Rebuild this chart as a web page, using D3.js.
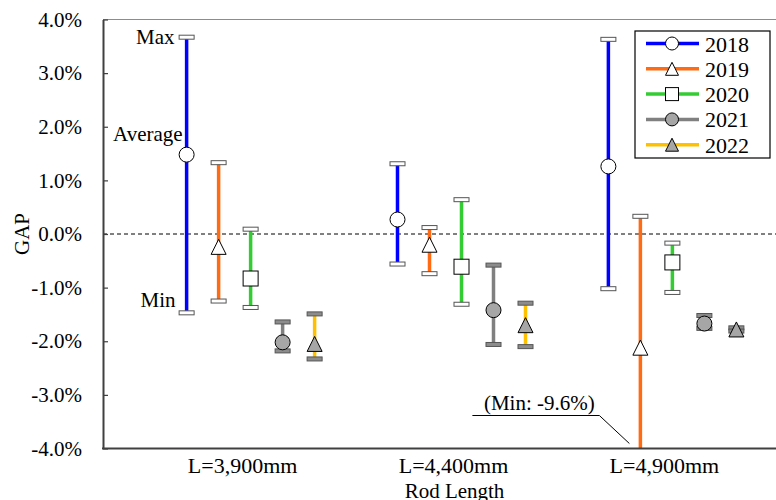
<!DOCTYPE html>
<html>
<head>
<meta charset="utf-8">
<script src="https://cdn.jsdelivr.net/npm/d3@7"></script>
<style>
  body { margin: 0; background: #fff; }
  svg { display: block; font-family: "Liberation Serif", "Times New Roman", serif; }
</style>
</head>
<body>
<svg id="chart" width="776" height="500"></svg>
<script>
var categories = ["L=3,900mm", "L=4,400mm", "L=4,900mm"];
var years = ["2018", "2019", "2020", "2021", "2022"];
// GAP in %, one row per year, one column per rod length
var averages = [
    [1.48, 0.27, 1.26],
    [-0.24, -0.20, -2.12],
    [-0.83, -0.61, -0.53],
    [-2.02, -1.42, -1.67],
    [-2.05, -1.70, -1.78]
];
var maxima = [
    [3.67, 1.31, 3.63],
    [1.33, 0.12, 0.33],
    [0.09, 0.64, -0.17],
    [-1.64, -0.58, -1.52],
    [-1.49, -1.29, -1.75]
];
var minima = [
    [-1.47, -0.56, -1.02],
    [-1.25, -0.74, -9.6],
    [-1.37, -1.31, -1.09],
    [-2.18, -2.06, -1.76],
    [-2.33, -2.10, -1.81]
];
var yTicks = [4, 3, 2, 1, 0, -1, -2, -3, -4];

var colors = ["#0000ff", "#ff6a13", "#33cc33", "#808080", "#ffc000"];
var shapes = ["circle", "triangle", "square", "circle", "triangle"];
var fills = ["#fff", "#fff", "#fff", "#a6a6a6", "#a6a6a6"];
var capFills = ["#fff", "#fff", "#fff", "#8c8c8c", "#8c8c8c"];

var svg = d3.select("#chart");
var pLeft = 103, pTop = 19.5, pBottom = 448.5, pRight = 820;

var y = d3.scaleLinear().domain([-4, 4]).range([pBottom, pTop]);
var x0 = d3.scalePoint().domain(categories).range([pLeft, pRight]).padding(0.7);
var x1 = d3.scalePoint().domain(years).range([-64, 64]);

// rows of data
var rows = [];
years.forEach(function(yr, i) {
    categories.forEach(function(c, j) {
        rows.push({ year: yr, i: i, cat: c, avg: averages[i][j], max: maxima[i][j], min: minima[i][j] });
    });
});
function px(d) { return x0(d.cat) + x1(d.year); }

function marker(sel, shape, size) {
    var h = size / 2;
    if (shape === "circle") {
        sel.append("circle").attr("r", h);
    } else if (shape === "square") {
        sel.append("rect").attr("x", -h).attr("y", -h).attr("width", size).attr("height", size);
    } else {
        sel.append("path").attr("d", "M0," + (-h) + "L" + h + "," + h + "L" + (-h) + "," + h + "Z");
    }
}

svg.append("defs").append("clipPath").attr("id", "plot")
   .append("rect").attr("x", pLeft).attr("y", pTop).attr("width", pRight - pLeft).attr("height", pBottom - pTop);

// frame
svg.append("line").attr("x1", pLeft).attr("x2", pRight).attr("y1", pTop).attr("y2", pTop)
   .attr("stroke", "#8c8c8c").attr("stroke-width", 1);

// zero line
svg.append("line").attr("x1", pLeft).attr("x2", pRight).attr("y1", y(0)).attr("y2", y(0))
   .attr("stroke", "#000").attr("stroke-width", 1).attr("stroke-dasharray", "4,3");

var g = svg.append("g").attr("clip-path", "url(#plot)");

g.selectAll(".bar").data(rows).enter().append("line")
   .attr("class", "bar")
   .attr("x1", px).attr("x2", px)
   .attr("y1", function(d) { return y(d.max); })
   .attr("y2", function(d) { return y(d.min); })
   .attr("stroke", function(d) { return colors[d.i]; })
   .attr("stroke-width", 3.5);

["max", "min"].forEach(function(k) {
    g.selectAll(".cap-" + k).data(rows).enter().append("rect")
       .attr("class", "cap-" + k)
       .attr("x", function(d) { return px(d) - 7.5; })
       .attr("y", function(d) { return y(d[k]) - 2; })
       .attr("width", 15).attr("height", 4)
       .attr("fill", function(d) { return capFills[d.i]; })
       .attr("stroke", "#555").attr("stroke-width", 1);
});

g.selectAll(".mark").data(rows).enter().append("g")
   .attr("class", "mark")
   .attr("transform", function(d) { return "translate(" + px(d) + "," + y(d.avg) + ")"; })
   .each(function(d) {
       var s = d3.select(this);
       marker(s, shapes[d.i], 15);
       s.selectAll("*").attr("fill", fills[d.i]).attr("stroke", "#000").attr("stroke-width", 1);
   });

// axes
var yAxis = d3.axisLeft(y).tickValues(yTicks).tickSizeInner(-5).tickSizeOuter(0).tickPadding(21)
    .tickFormat(function(v) { return v.toFixed(1) + "%"; });
var ya = svg.append("g").attr("transform", "translate(" + pLeft + ",0)").call(yAxis);
ya.select(".domain").attr("stroke", "#404040").attr("stroke-width", 2);
ya.selectAll(".tick line").attr("stroke", "#404040").attr("stroke-width", 1.2);
ya.selectAll(".tick text").attr("font-size", 21).attr("font-family", "Liberation Serif, Times New Roman, serif").attr("fill", "#000");

svg.append("line").attr("x1", pLeft - 1).attr("x2", pRight).attr("y1", pBottom).attr("y2", pBottom)
   .attr("stroke", "#404040").attr("stroke-width", 2);

svg.selectAll(".cat").data(categories).enter().append("text")
   .attr("class", "cat")
   .attr("x", function(d) { return x0(d) - 8; })
   .attr("y", 473)
   .attr("text-anchor", "middle").attr("font-size", 22)
   .text(function(d) { return d; });

svg.append("text").attr("x", x0(categories[1]) - 7).attr("y", 498)
   .attr("text-anchor", "middle").attr("font-size", 21).text("Rod Length");

svg.append("text").attr("transform", "translate(29," + y(0) + ") rotate(-90)")
   .attr("text-anchor", "middle").attr("font-size", 21).text("GAP");

// annotations on first 2018 bar
var a = rows[0];
svg.append("text").attr("x", px(a) - 12).attr("y", y(a.max) + 7)
   .attr("text-anchor", "end").attr("font-size", 21).text("Max");
svg.append("text").attr("x", px(a) - 4).attr("y", y(a.avg) - 14)
   .attr("text-anchor", "end").attr("font-size", 21).text("Average");
svg.append("text").attr("x", px(a) - 11).attr("y", y(a.min) - 6)
   .attr("text-anchor", "end").attr("font-size", 21).text("Min");

// callout for clipped minimum
var c = rows.filter(function(d) { return d.min < -4; })[0];
var ax = px(c) - 11, ay = y(-4) - 5;
var ex = ax - 30, ey = ay - 28;
svg.append("path").attr("d", "M" + ax + "," + ay + "L" + ex + "," + ey + "L" + (ex - 127) + "," + ey)
   .attr("fill", "none").attr("stroke", "#000").attr("stroke-width", 1);
svg.append("text").attr("x", ex - 60).attr("y", ey - 6)
   .attr("text-anchor", "middle").attr("font-size", 21).text("(Min: " + c.min.toFixed(1) + "%)");

// legend
var lg = svg.append("g").attr("transform", "translate(635,31)");
lg.append("rect").attr("width", 135).attr("height", 127)
   .attr("fill", "#fff").attr("stroke", "#000").attr("stroke-width", 1.2);
var item = lg.selectAll(".item").data(years).enter().append("g")
   .attr("class", "item")
   .attr("transform", function(d, i) { return "translate(0," + (12.5 + i * 25.3) + ")"; });
item.append("line").attr("x1", 11).attr("x2", 64)
   .attr("stroke", function(d, i) { return colors[i]; }).attr("stroke-width", 3.5);
item.each(function(d, i) {
    var m = d3.select(this).append("g").attr("transform", "translate(37,0)");
    marker(m, shapes[i], 13);
    m.selectAll("*").attr("fill", fills[i]).attr("stroke", "#000").attr("stroke-width", 1);
});
item.append("text").attr("x", 70).attr("y", 8).attr("font-size", 22).text(function(d) { return d; });
</script>
</body>
</html>
